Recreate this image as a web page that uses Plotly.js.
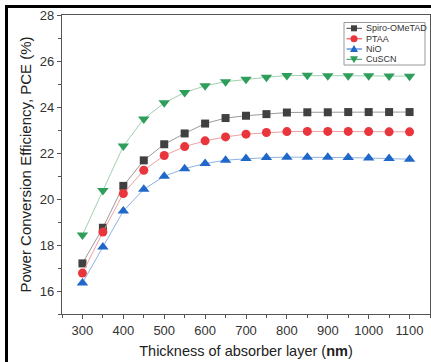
<!DOCTYPE html>
<html><head><meta charset="utf-8">
<script src="https://cdn.plot.ly/plotly-3.0.1.min.js"></script>
<style>
html,body{margin:0;padding:0;background:#fff;}
#wrap{position:relative;width:431px;height:362px;overflow:hidden;}
#chart{width:431px;height:362px;}
#frame{position:absolute;left:5px;top:5px;width:440px;height:370px;border-left:3px solid #000;border-top:3px solid #000;pointer-events:none;}
</style></head>
<body><div id="wrap"><div id="chart"></div><div id="frame"></div></div>
<script>
const thickness = [300,350,400,450,500,550,600,650,700,750,800,850,900,950,1000,1050,1100];
const spiro = [17.2,18.75,20.57,21.68,22.38,22.85,23.28,23.52,23.62,23.69,23.76,23.77,23.77,23.78,23.78,23.78,23.78];
const ptaa  = [16.78,18.56,20.24,21.25,21.89,22.28,22.53,22.70,22.82,22.89,22.93,22.94,22.94,22.94,22.93,22.92,22.92];
const nio   = [16.35,17.91,19.48,20.42,20.99,21.32,21.54,21.69,21.76,21.80,21.82,21.82,21.82,21.80,21.78,21.76,21.73];
const cuscn = [18.43,20.37,22.3,23.48,24.18,24.63,24.92,25.1,25.21,25.29,25.37,25.38,25.36,25.36,25.36,25.35,25.34];
const names = ["Spiro-OMeTAD","PTAA","NiO","CuSCN"];
const xTicks = [300,400,500,600,700,800,900,1000,1100];
const yTicks = [16,18,20,22,24,26,28];

const FONT = 'Liberation Sans, Arial, sans-serif';
const W = 431, H = 362, M = {l:62, r:1, t:15, b:48};
const PW = W - M.l - M.r, PH = H - M.t - M.b;
const px = v => (v - M.l) / PW;          // pixel x -> paper
const py = v => 1 - (v - M.t) / PH;      // pixel y -> paper

const styles = [
  {sym:'square', col:'#404040', line:'#9a9a9a', size:8},
  {sym:'circle', col:'#e8363c', line:'#f0a0a2', size:9},
  {sym:'triangle-up', col:'#1f68c9', line:'#8fb3e3', size:10},
  {sym:'triangle-down', col:'#2e9e5b', line:'#9fd1b0', size:10}
];
const series = [spiro, ptaa, nio, cuscn];
const data = series.map((y, i) => ({
  x: thickness, y: y, name: names[i], type:'scatter', mode:'lines+markers', showlegend:false,
  line:{color: styles[i].line, width:1},
  marker:{symbol: styles[i].sym, color: styles[i].col, size: styles[i].size, line:{width:0}}
}));

// compact legend (box, line segments, symbols, labels)
const shapes = [{type:'rect', xref:'paper', yref:'paper', x0:px(344), x1:px(425), y0:py(65), y1:py(22.5),
  line:{color:'#999', width:1}, fillcolor:'#fff', layer:'above'}];
const annotations = [];
const rowY = [28.3, 38.8, 49.0, 59.3];
const sx = px(354);
names.forEach((n, i) => {
  const yy = py(rowY[i]);
  shapes.push({type:'line', xref:'paper', yref:'paper', x0:px(346.5), x1:px(362), y0:yy, y1:yy,
    line:{color: styles[i].col, width:1}, layer:'above'});
  const common = {xref:'paper', yref:'paper', xsizemode:'pixel', ysizemode:'pixel', xanchor:sx, yanchor:yy,
    fillcolor: styles[i].col, line:{width:0}, layer:'above'};
  if (styles[i].sym === 'square') shapes.push(Object.assign({type:'rect', x0:-3, x1:3, y0:-3, y1:3}, common));
  else if (styles[i].sym === 'circle') shapes.push(Object.assign({type:'circle', x0:-3.5, x1:3.5, y0:-3.5, y1:3.5}, common));
  else if (styles[i].sym === 'triangle-up') shapes.push(Object.assign({type:'path', path:'M-4,-3 L4,-3 L0,4 Z'}, common));
  else shapes.push(Object.assign({type:'path', path:'M-4,3 L4,3 L0,-4 Z'}, common));
  annotations.push({xref:'paper', yref:'paper', x:px(363.5), y:yy, xanchor:'left', yanchor:'middle',
    text:n, showarrow:false, font:{family:FONT, size:9, color:'#333'}});
});

const axisCommon = {showline:true, linecolor:'#555', linewidth:1.2, mirror:true,
  ticks:'outside', ticklen:4, tickcolor:'#555', tickwidth:1, showgrid:false, zeroline:false,
  tickfont:{family:FONT, size:13, color:'#333'}};
const layout = {
  width:W, height:H, paper_bgcolor:'#fff', plot_bgcolor:'#fff',
  margin:M, showlegend:false, shapes:shapes, annotations:annotations,
  xaxis: Object.assign({}, axisCommon, {range:[250,1150], tickvals:xTicks,
    minor:{dtick:50, tick0:250, ticks:'outside', ticklen:2.5, tickcolor:'#555'},
    title:{text:'Thickness of absorber layer (<b>nm</b>)', standoff:9,
      font:{family:FONT, size:14.5, color:'#222'}}}),
  yaxis: Object.assign({}, axisCommon, {range:[15,28], tickvals:yTicks,
    minor:{dtick:1, tick0:15, ticks:'outside', ticklen:2.5, tickcolor:'#555'},
    title:{text:'Power Conversion Efficiency, PCE (%)', standoff:4,
      font:{family:FONT, size:15, color:'#222'}}})
};
Plotly.newPlot('chart', data, layout, {displayModeBar:false, staticPlot:true});
</script></body></html>
